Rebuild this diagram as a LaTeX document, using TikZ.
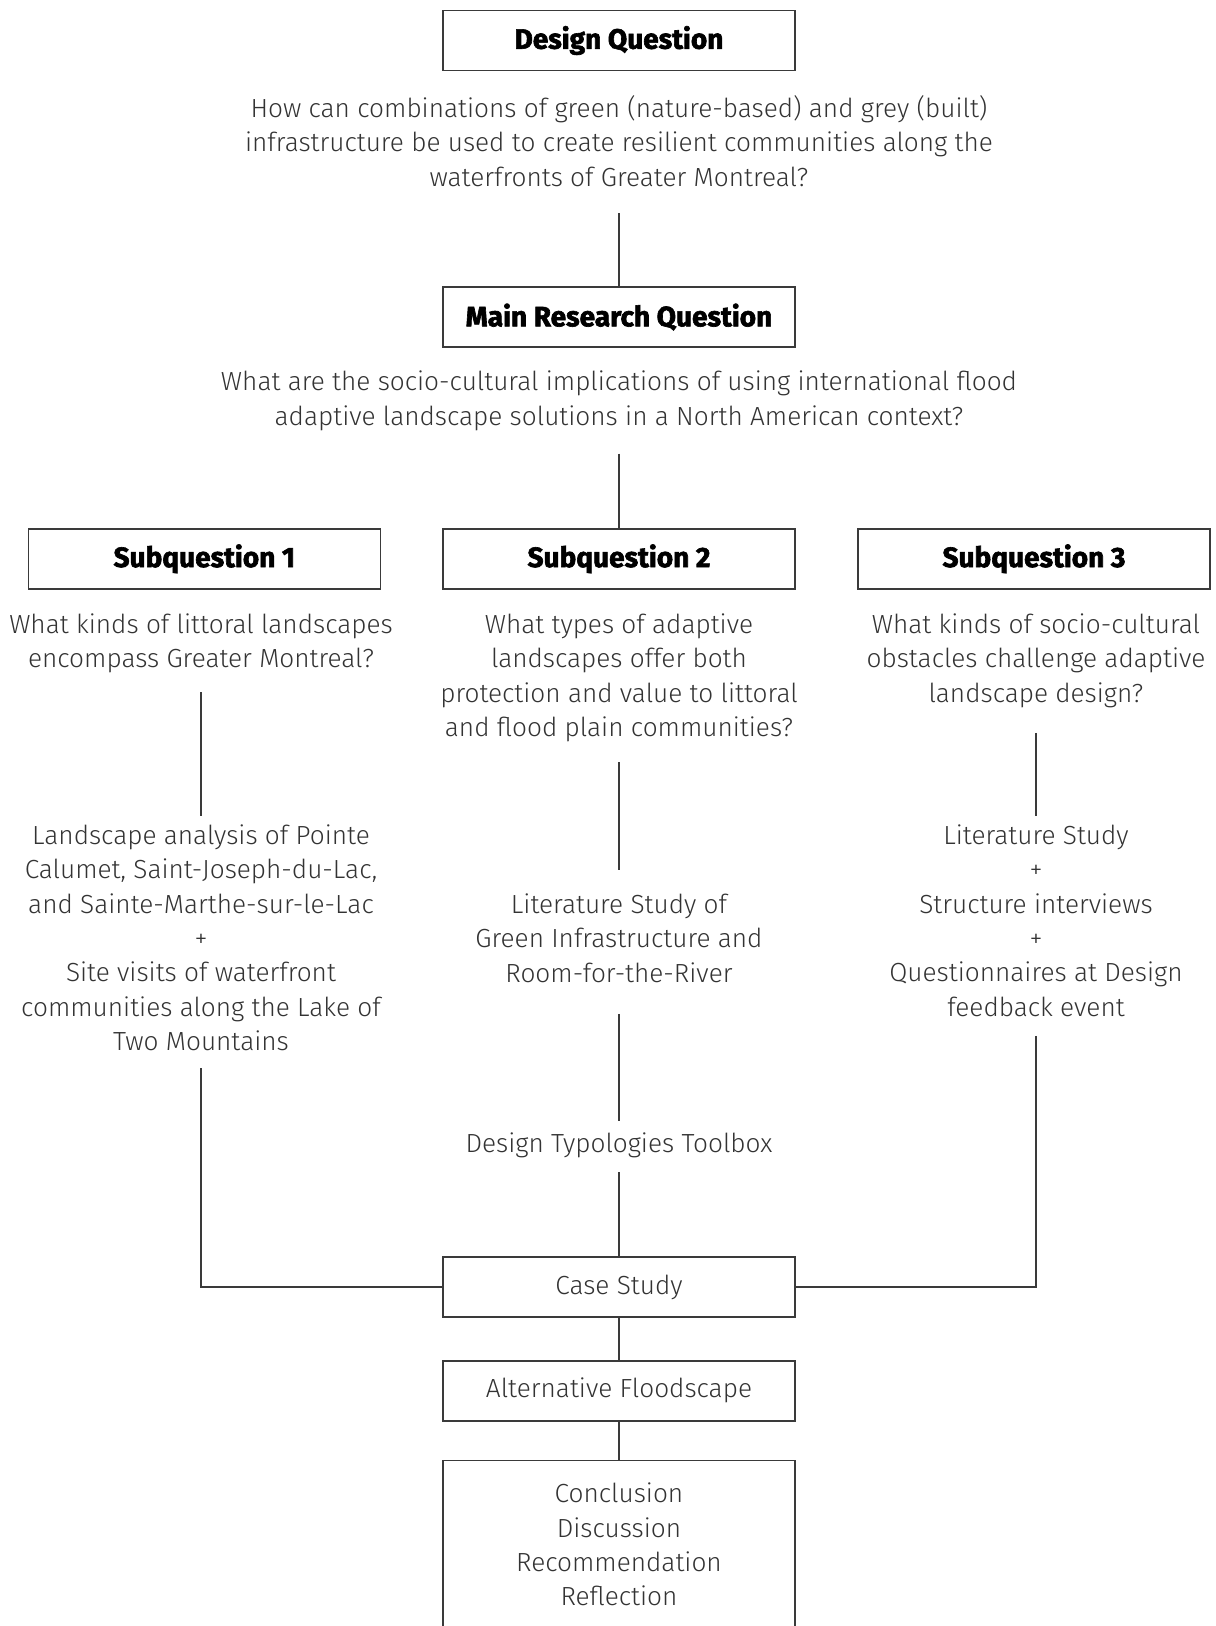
\documentclass[tikz,border=0pt]{standalone}
\usepackage{fontspec}
\setmainfont{Fira Sans Light}
\newfontfamily\headfam{Fira Sans}[BoldFeatures={FakeBold=2.2}]
\definecolor{ink}{HTML}{333333}
\definecolor{linec}{HTML}{3A3A3A}
\newcommand\bodyfont{\fontsize{26.2}{34.4}\selectfont}
\newcommand\headfont{\headfam\fontsize{28}{30}\selectfont\bfseries}
\begin{document}
\begin{tikzpicture}[x=1pt,y=-1pt,
  hbox/.style={draw=linec, line width=1.5pt, minimum width=352pt, minimum height=60pt, inner sep=0pt, font=\headfont, text=black},
  txt/.style={align=center, inner sep=0pt, font=\bodyfont, text=ink},
  conn/.style={draw=linec, line width=1.5pt}]
\path[use as bounding box, clip] (0,0) rectangle (1216,1626);
\node[hbox] (dq) at (619,40.5) {Design Question};
\node[txt] (dqt) at (619,141) {How can combinations of green (nature-based) and grey (built)\\infrastructure be used to create resilient communities along the\\waterfronts of Greater Montreal?};
\node[hbox] (mrq) at (619,317) {Main Research Question};
\node[txt] (mrqt) at (619,400.7) {What are the socio-cultural implications of using international flood\\adaptive landscape solutions in a North American context?};
\node[hbox] (sq1) at (204.3,558.8) {Subquestion 1};
\node[hbox] (sq2) at (619,558.8) {Subquestion 2};
\node[hbox] (sq3) at (1034,558.8) {Subquestion 3};
\node[txt] (q1) at (201,643.3) {What kinds of littoral landscapes\\encompass Greater Montreal?};
\node[txt] (q2) at (619,678) {What types of adaptive\\landscapes offer both\\protection and value to littoral\\and flood plain communities?};
\node[txt] (q3) at (1036,660.7) {What kinds of socio-cultural\\obstacles challenge adaptive\\landscape design?};
\node[txt] (m1) at (201,937.7) {Landscape analysis of Pointe\\Calumet, Saint-Joseph-du-Lac,\\and Sainte-Marthe-sur-le-Lac\\+\\Site visits of waterfront\\communities along the Lake of\\Two Mountains};
\node[txt] (m2) at (619,938.2) {Literature Study of\\Green Infrastructure and\\Room-for-the-River};
\node[txt] (m3) at (1036,920.6) {Literature Study\\+\\Structure interviews\\+\\Questionnaires at Design\\feedback event};
\node[txt] (tb) at (619,1145.6) {Design Typologies Toolbox};
\node[hbox, font=\bodyfont, text=ink] (cs) at (619,1287) {Case Study};
\node[hbox, font=\bodyfont, text=ink] (af) at (619,1390.8) {Alternative Floodscape};
\node[hbox, font=\bodyfont, text=ink, minimum height=168pt, align=center] (fin) at (619,1544.6) {Conclusion\\Discussion\\Recommendation\\Reflection};
\draw[conn, shorten <=26.5pt] (dqt.south) -- (mrq.north);
\draw[conn, shorten <=23pt] (mrqt.south) -- (sq2.north);
\draw[conn, shorten <=19pt, shorten >=8pt] (q1.south) -- (m1.north);
\draw[conn, shorten <=20pt, shorten >=24pt] (q2.south) -- (m2.north);
\draw[conn, shorten <=25pt, shorten >=8pt] (q3.south) -- (m3.north);
\draw[conn, shorten <=17pt] (m1.south) |- (cs.west);
\draw[conn, shorten <=31pt, shorten >=12pt] (m2.south) -- (tb.north);
\draw[conn, shorten <=14pt] (tb.south) -- (cs.north);
\draw[conn, shorten <=19pt] (m3.south) |- (cs.east);
\draw[conn] (cs.south) -- (af.north);
\draw[conn] (af.south) -- (fin.north);
\end{tikzpicture}
\end{document}
